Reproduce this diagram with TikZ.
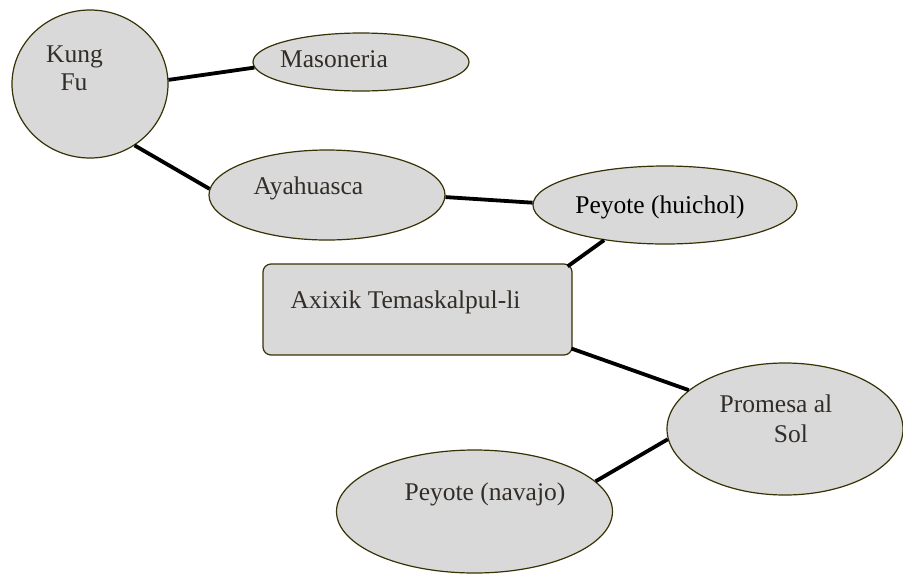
\documentclass[tikz,border=0pt]{standalone}
\usepackage{fontspec}
\setmainfont{Liberation Serif}
\newfontfamily\tnr{Liberation Serif}
\usetikzlibrary{shapes.geometric}
\definecolor{fillgray}{RGB}{217,217,217}
\definecolor{edgecol}{RGB}{55,50,5}
\definecolor{txtcol}{RGB}{50,45,40}
\begin{document}
\begin{tikzpicture}[x=1pt,y=-1pt,
  bubble/.style={ellipse,draw=edgecol,line width=1.2pt,fill=fillgray,inner sep=0pt},
  boxnode/.style={rectangle,rounded corners=8pt,draw=edgecol,line width=1.2pt,fill=fillgray,inner sep=0pt},
  lbl/.style={anchor=base,inner sep=0pt,text=txtcol,font=\tnr\fontsize{25.5}{30}\selectfont},
  link/.style={line width=3.8pt,black}]
\useasboundingbox (0,0) rectangle (903,574);
% shapes
\node[bubble,minimum width=156pt,minimum height=148pt] (kf) at (90,84) {};
\node[bubble,minimum width=216pt,minimum height=58pt] (mas) at (361,62) {};
\node[bubble,minimum width=236pt,minimum height=90pt] (aya) at (327,195) {};
\node[bubble,minimum width=264pt,minimum height=78pt] (hui) at (665,205) {};
\node[boxnode,minimum width=309pt,minimum height=91pt] (axi) at (417.5,309.5) {};
\node[bubble,minimum width=236pt,minimum height=132pt] (pro) at (785,429) {};
\node[bubble,minimum width=276pt,minimum height=123pt] (nav) at (474.5,511.5) {};
% connectors
\draw[link] (kf.3) -- (mas.183);
\draw[link] (kf.-54) -- (aya.177);
\draw[link] (aya.-1) -- (hui.179);
\draw[link] (hui.210) -- ([xshift=-5pt,yshift=-3pt]axi.north east);
\draw[link] ([xshift=-1pt,yshift=7pt]axi.south east) -- (pro.158.7);
\draw[link] (pro.185) -- (nav.14);
% labels
\node[lbl] (t1) at (74.5,62) {Kung};
\node[lbl] (t2) at (74,90) {Fu};
\node[lbl] (t3) at (334,67) {Masoneria};
\node[lbl] (t4) at (308.5,194) {Ayahuasca};
\node[lbl,text=black] (t5) at (660,213) {Peyote (huichol)};
\node[lbl] (t6) at (405.5,308) {Axixik Temaskalpul-li};
\node[lbl] (t7) at (776,412) {Promesa al};
\node[lbl] (t8) at (791,442) {Sol};
\node[lbl] (t9) at (485,500) {Peyote (navajo)};
\end{tikzpicture}
\end{document}
